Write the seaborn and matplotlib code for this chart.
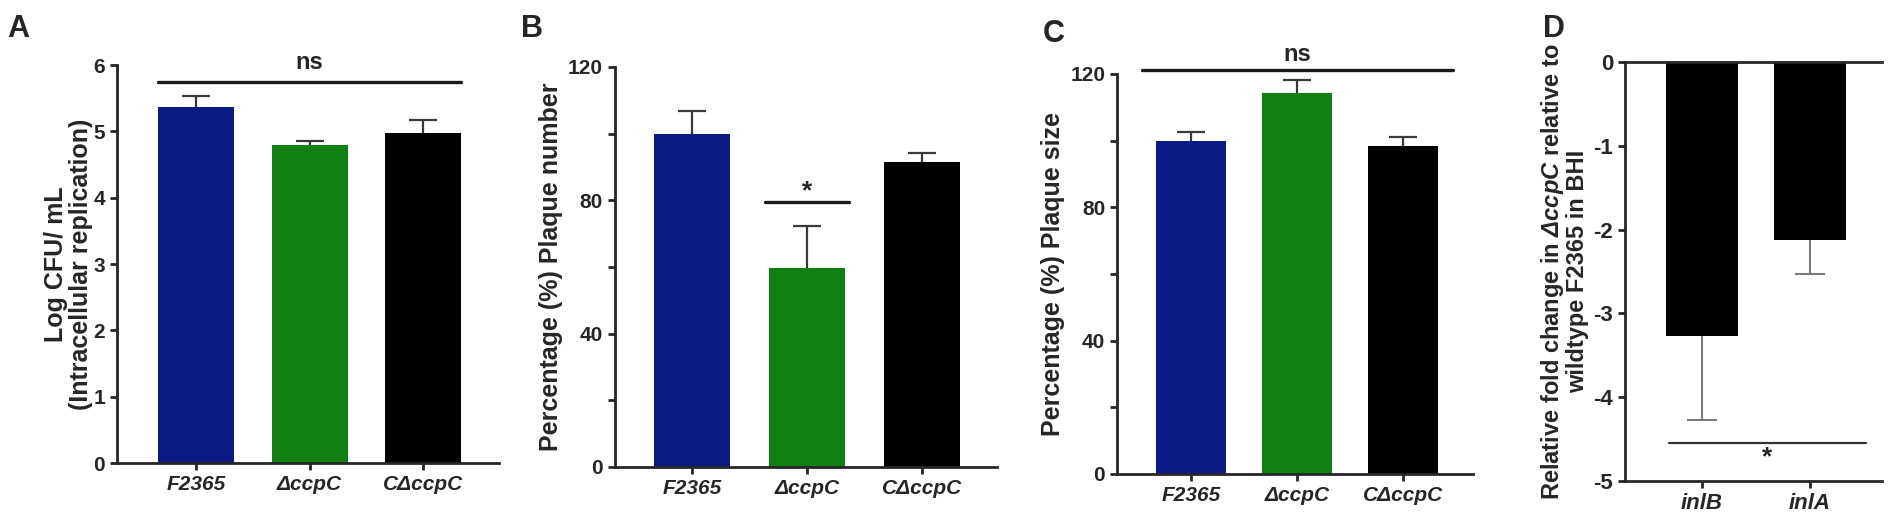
import numpy as np
import pandas as pd
import seaborn as sns
from matplotlib import pyplot as plt

# %%
strains = ['F2365', 'ΔccpC', 'CΔccpC']
strain_colors = ['#0b1a84', '#127f12', '#000000']

# A - intracellular replication
log_cfu = [5.36, 4.80, 4.97]
log_cfu_err = [0.17, 0.06, 0.20]

# B - plaque number
plaque_number = [100.0, 59.8, 91.6]
plaque_number_err = [6.9, 12.6, 2.6]

# C - plaque size
plaque_size = [100.0, 114.2, 98.5]
plaque_size_err = [2.5, 4.1, 2.6]

# D - qPCR fold change
genes = ['inlB', 'inlA']
fold_change = [-3.27, -2.12]
fold_change_err = [1.00, 0.41]

# %%
sns.set_theme(style='ticks')
plt.rcParams['font.family'] = ['Liberation Sans', 'DejaVu Sans']
plt.rcParams['font.weight'] = 'bold'
plt.rcParams['axes.unicode_minus'] = False
plt.rcParams['mathtext.fontset'] = 'custom'
plt.rcParams['mathtext.bfit'] = 'Liberation Sans:bold:italic'
plt.rcParams['axes.linewidth'] = 2.0
plt.rcParams['xtick.major.width'] = 2.0
plt.rcParams['ytick.major.width'] = 2.0
plt.rcParams['xtick.major.size'] = 5
plt.rcParams['ytick.major.size'] = 5
plt.rcParams['ytick.minor.width'] = 2.0
plt.rcParams['ytick.minor.size'] = 5

fig = plt.figure(figsize=(19.02, 5.27), dpi=100)
axA = fig.add_axes([0.0615, 0.1214, 0.2008, 0.7552])
axB = fig.add_axes([0.3233, 0.1139, 0.2008, 0.7590])
axC = fig.add_axes([0.5873, 0.1006, 0.1872, 0.7590])
axD = fig.add_axes([0.8544, 0.0873, 0.1351, 0.7950])


def bars(ax, cats, vals, errs, colors, width, ecolor='#3a3a3a', lw=1.6, cap=10, down=False):
    df = pd.DataFrame({'cat': cats, 'val': vals})
    sns.barplot(data=df, x='cat', y='val', hue='cat', palette=colors, legend=False,
                width=width, saturation=1, edgecolor='none', ax=ax, zorder=2)
    zeros = np.zeros(len(vals))
    if down:
        yerr = [errs, zeros]
    else:
        yerr = [zeros, errs]
    eb = ax.errorbar(np.arange(len(vals)), vals, yerr=yerr, fmt='none', ecolor=ecolor,
                     elinewidth=lw, capsize=cap, capthick=lw, zorder=1)
    # hide the cap that sits on the bar end
    if down:
        eb[1][1].set_visible(False)
    else:
        eb[1][0].set_visible(False)
    ax.set_xlabel('')
    sns.despine(ax=ax)


def style_x(ax, labels, size=15):
    ax.set_xticks(range(len(labels)))
    ax.set_xticklabels(labels, fontsize=size, fontweight='bold', fontstyle='italic')
    ax.tick_params(axis='y', labelsize=size)
    for t in ax.get_yticklabels():
        t.set_fontweight('bold')


# %% A
bars(axA, strains, log_cfu, log_cfu_err, strain_colors, 0.67)
axA.set_xlim(-0.695, 2.665)
axA.set_ylim(0, 6)
axA.set_yticks(range(0, 7))
axA.set_ylabel('Log CFU/ mL\n(Intracellular replication)', fontsize=18, fontweight='bold',
               labelpad=0, linespacing=1.05)
style_x(axA, strains)
axA.plot([-0.33, 2.33], [5.74, 5.74], color='k', lw=2.4, clip_on=False)
axA.text(1, 5.86, 'ns', ha='center', va='bottom', fontsize=17, fontweight='bold')

# %% B
bars(axB, strains, plaque_number, plaque_number_err, strain_colors, 0.66)
axB.set_xlim(-0.67, 2.65)
axB.set_ylim(0, 120)
axB.set_yticks([0, 40, 80, 120])
axB.set_yticks([20, 60, 100], minor=True)
axB.set_ylabel('Percentage (%) Plaque number', fontsize=18, fontweight='bold', labelpad=4)
style_x(axB, strains)
axB.plot([0.635, 1.365], [79.4, 79.4], color='k', lw=2.4)
axB.text(1, 79.0, '*', ha='center', va='bottom', fontsize=19, fontweight='bold')

# %% C
bars(axC, strains, plaque_size, plaque_size_err, strain_colors, 0.66)
axC.set_xlim(-0.70, 2.66)
axC.set_ylim(0, 120)
axC.set_yticks([0, 40, 80, 120])
axC.set_yticks([20, 60, 100], minor=True)
axC.set_ylabel('Percentage (%) Plaque size', fontsize=18, fontweight='bold', labelpad=4)
style_x(axC, strains)
axC.plot([-0.46, 2.47], [121.2, 121.2], color='k', lw=2.4, clip_on=False)
axC.text(1, 122.5, 'ns', ha='center', va='bottom', fontsize=17, fontweight='bold')

# %% D
bars(axD, genes, fold_change, fold_change_err, ['#000000', '#000000'], 0.67,
     ecolor='#777777', lw=1.4, cap=11, down=True)
axD.set_xlim(-0.71, 1.67)
axD.set_ylim(-5, 0)
axD.set_yticks(range(-5, 1))
axD.spines['top'].set_visible(True)
axD.set_ylabel('Relative fold change in $\\mathbfit{\\Delta ccpC}$ relative to\nwildtype F2365 in BHI',
               fontsize=17, fontweight='bold', labelpad=3, linespacing=1.0)
style_x(axD, genes, size=16)
axD.plot([-0.30, 1.52], [-4.55, -4.55], color='#333333', lw=1.6)
axD.text(0.61, -4.58, '*', ha='center', va='top', fontsize=19, fontweight='bold')

# panel letters
for lab, xx, yy in [('A', 0.004, 0.93), ('B', 0.274, 0.93), ('C', 0.548, 0.92), ('D', 0.811, 0.93)]:
    fig.text(xx, yy, lab, fontsize=22, fontweight='bold')

plt.savefig('out.png', dpi=100)
